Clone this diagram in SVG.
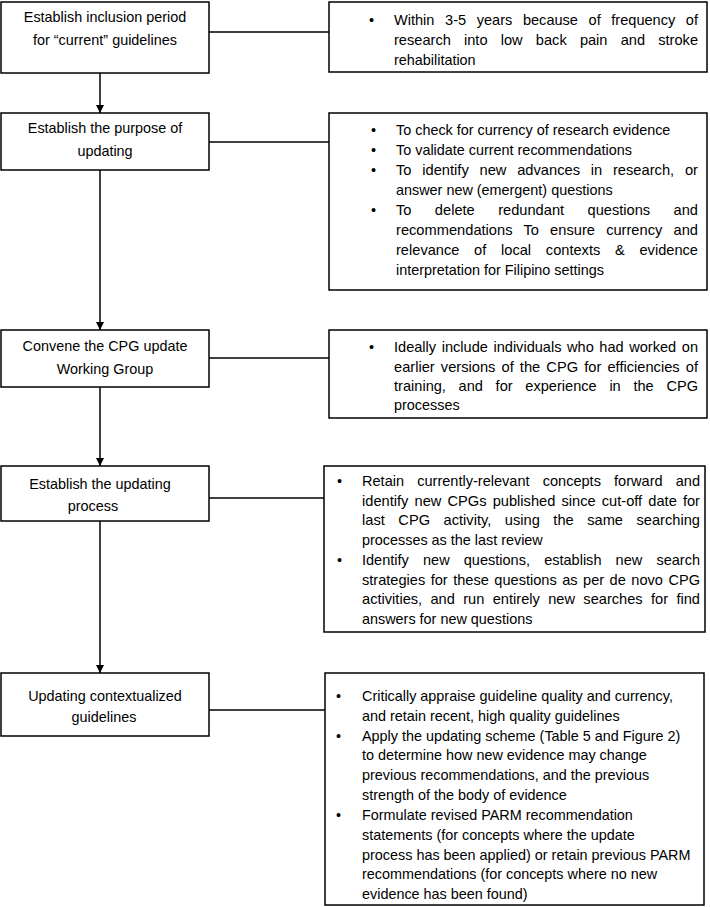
<svg xmlns="http://www.w3.org/2000/svg" width="710" height="907" viewBox="0 0 710 907">
<defs>
<marker id="ah" viewBox="0 0 10 10" refX="10" refY="5" markerWidth="8" markerHeight="8" markerUnits="userSpaceOnUse" orient="auto"><path d="M0,0 L10,5 L0,10 z" fill="#000"/></marker>
</defs>
<style>
rect{fill:#fff;stroke:#000;stroke-width:1.5}
text{font-family:"Liberation Sans",Arial,sans-serif;font-size:14.4px;fill:#000}
.c{text-anchor:middle}
.l{stroke:#000;stroke-width:1.5;fill:none}
</style>
<rect width="710" height="907" fill="#fff" style="stroke:none"/>
<g id="connectors">
<line class="l" x1="209" y1="32" x2="329" y2="32"/>
<line class="l" x1="209" y1="142" x2="329" y2="142"/>
<line class="l" x1="209" y1="358" x2="329" y2="358"/>
<line class="l" x1="209" y1="498" x2="324" y2="498"/>
<line class="l" x1="209" y1="710" x2="325" y2="710"/>
<line class="l" x1="100" y1="73" x2="100" y2="113" marker-end="url(#ah)"/>
<line class="l" x1="100" y1="170" x2="100" y2="330" marker-end="url(#ah)"/>
<line class="l" x1="100" y1="387" x2="100" y2="466" marker-end="url(#ah)"/>
<line class="l" x1="100" y1="521" x2="100" y2="673" marker-end="url(#ah)"/>
</g>
<g id="stepA">
<rect x="1" y="2" width="208" height="71"/>
<text class="c" x="105" y="22">Establish inclusion period</text>
<text class="c" x="105" y="45">for “current” guidelines</text>
</g>
<g id="noteA">
<rect x="329" y="2" width="378" height="70"/>
<text x="369" y="25">•</text>
<text x="394" y="25" word-spacing="6.5" textLength="304" lengthAdjust="spacingAndGlyphs">Within 3-5 years because of frequency of</text>
<text x="394" y="45" word-spacing="9" textLength="304" lengthAdjust="spacingAndGlyphs">research into low back pain and stroke</text>
<text x="394" y="65">rehabilitation</text>
</g>
<g id="stepB">
<rect x="1" y="113" width="208" height="57"/>
<text class="c" x="105" y="133">Establish the purpose of</text>
<text class="c" x="105" y="156">updating</text>
</g>
<g id="noteB">
<rect x="329" y="113" width="378" height="177"/>
<text x="371" y="135">•</text>
<text x="396" y="135">To check for currency of research evidence</text>
<text x="371" y="155">•</text>
<text x="396" y="155">To validate current recommendations</text>
<text x="371" y="175">•</text>
<text x="396" y="175" word-spacing="6.5" textLength="302" lengthAdjust="spacingAndGlyphs">To identify new advances in research, or</text>
<text x="396" y="195">answer new (emergent) questions</text>
<text x="371" y="215">•</text>
<text x="396" y="215" word-spacing="19" textLength="302" lengthAdjust="spacingAndGlyphs">To delete redundant questions and</text>
<text x="396" y="235" word-spacing="7" textLength="302" lengthAdjust="spacingAndGlyphs">recommendations To ensure currency and</text>
<text x="396" y="255" word-spacing="10.5" textLength="302" lengthAdjust="spacingAndGlyphs">relevance of local contexts &amp; evidence</text>
<text x="396" y="275">interpretation for Filipino settings</text>
</g>
<g id="stepC">
<rect x="1" y="330" width="208" height="57"/>
<text class="c" x="105" y="351">Convene the CPG update</text>
<text class="c" x="105" y="374">Working Group</text>
</g>
<g id="noteC">
<rect x="329" y="330" width="378" height="88"/>
<text x="369" y="352">•</text>
<text x="394" y="352" word-spacing="1.5" textLength="304" lengthAdjust="spacingAndGlyphs">Ideally include individuals who had worked on</text>
<text x="394" y="372" word-spacing="2" textLength="304" lengthAdjust="spacingAndGlyphs">earlier versions of the CPG for efficiencies of</text>
<text x="394" y="391" word-spacing="8.5" textLength="304" lengthAdjust="spacingAndGlyphs">training, and for experience in the CPG</text>
<text x="394" y="410">processes</text>
</g>
<g id="stepD">
<rect x="1" y="466" width="208" height="55"/>
<text class="c" x="100" y="489">Establish the updating</text>
<text class="c" x="93" y="511">process</text>
</g>
<g id="noteD">
<rect x="324" y="466" width="381" height="166"/>
<text x="337" y="486">•</text>
<text x="362" y="486" word-spacing="9" textLength="338" lengthAdjust="spacingAndGlyphs">Retain currently-relevant concepts forward and</text>
<text x="362" y="506" word-spacing="2" textLength="338" lengthAdjust="spacingAndGlyphs">identify new CPGs published since cut-off date for</text>
<text x="362" y="525" word-spacing="9.3" textLength="338" lengthAdjust="spacingAndGlyphs">last CPG activity, using the same searching</text>
<text x="362" y="545">processes as the last review</text>
<text x="337" y="565">•</text>
<text x="362" y="565" word-spacing="10" textLength="338" lengthAdjust="spacingAndGlyphs">Identify new questions, establish new search</text>
<text x="362" y="585" word-spacing="1.4" textLength="338" lengthAdjust="spacingAndGlyphs">strategies for these questions as per de novo CPG</text>
<text x="362" y="604" word-spacing="4.2" textLength="338" lengthAdjust="spacingAndGlyphs">activities, and run entirely new searches for find</text>
<text x="362" y="624">answers for new questions</text>
</g>
<g id="stepE">
<rect x="1" y="673" width="208" height="63"/>
<text class="c" x="105" y="701">Updating contextualized</text>
<text class="c" x="104" y="722">guidelines</text>
</g>
<g id="noteE">
<rect x="325" y="673" width="379" height="232"/>
<text x="336" y="701">•</text>
<text x="362" y="701">Critically appraise guideline quality and currency,</text>
<text x="362" y="721">and retain recent, high quality guidelines</text>
<text x="336" y="741">•</text>
<text x="362" y="741">Apply the updating scheme (Table 5 and Figure 2)</text>
<text x="362" y="760">to determine how new evidence may change</text>
<text x="362" y="780">previous recommendations, and the previous</text>
<text x="362" y="800">strength of the body of evidence</text>
<text x="336" y="820">•</text>
<text x="362" y="820">Formulate revised PARM recommendation</text>
<text x="362" y="840">statements (for concepts where the update</text>
<text x="362" y="860">process has been applied) or retain previous PARM</text>
<text x="362" y="879">recommendations (for concepts where no new</text>
<text x="362" y="899">evidence has been found)</text>
</g>
</svg>
